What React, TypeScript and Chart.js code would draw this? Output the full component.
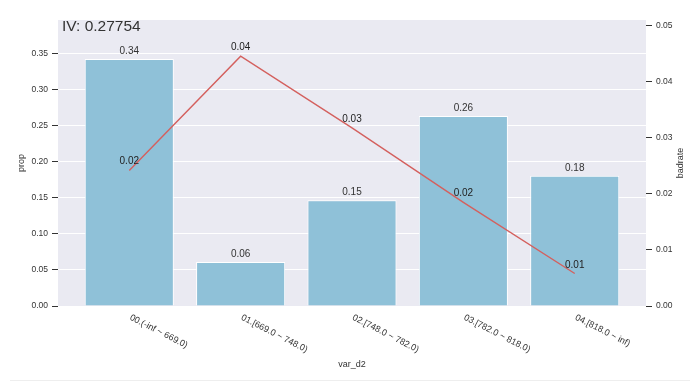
import React, { useEffect, useRef } from "react";
import { Chart, registerables } from "chart.js";

Chart.register(...registerables);

const categories = [
  "00.(-inf ~ 669.0)",
  "01.[669.0 ~ 748.0)",
  "02.[748.0 ~ 782.0)",
  "03.[782.0 ~ 818.0)",
  "04.[818.0 ~ inf)",
];
const propValues = [0.343, 0.061, 0.147, 0.264, 0.181];
const badrateValues = [0.0242, 0.0446, 0.0318, 0.0185, 0.0058];
const propTicks = [0, 0.05, 0.1, 0.15, 0.2, 0.25, 0.3, 0.35];
const badrateTicks = [0, 0.01, 0.02, 0.03, 0.04, 0.05];
const titleText = "IV: 0.27754";
const xTitle = "var_d2";
const yTitle = "prop";
const y2Title = "badrate";

const FONT = "'Liberation Sans', Arial, sans-serif";
const TEXT = "#333333";

export default function App() {
  const ref = useRef<HTMLCanvasElement | null>(null);

  useEffect(() => {
    if (!ref.current) return;
    const decor = {
      id: "decor",
      beforeDraw(chart: any) {
        const { ctx, chartArea } = chart;
        ctx.save();
        ctx.fillStyle = "#EAEAF2";
        ctx.fillRect(chartArea.left, chartArea.top, chartArea.right - chartArea.left, chartArea.bottom - chartArea.top);
        ctx.restore();
      },
      afterDraw(chart: any) {
        const { ctx, chartArea, scales } = chart;
        ctx.save();
        ctx.fillStyle = TEXT;
        ctx.font = `10px ${FONT}`;
        ctx.textAlign = "center";
        ctx.textBaseline = "alphabetic";
        propValues.forEach((v, i) => {
          const x = scales.x.getPixelForValue(i);
          const y = scales.y.getPixelForValue(v);
          ctx.fillText(v.toFixed(2), x, y - 5);
        });
        ctx.fillStyle = "#222222";
        badrateValues.forEach((v, i) => {
          const x = scales.x.getPixelForValue(i);
          const y = scales.y2.getPixelForValue(v);
          ctx.fillText(v.toFixed(2), x, y - 6);
        });
        ctx.fillStyle = TEXT;
        ctx.font = `9px ${FONT}`;
        categories.forEach((c, i) => {
          const x = scales.x.getPixelForValue(i);
          ctx.save();
          ctx.translate(x + 1, chartArea.bottom + 11);
          ctx.rotate((27 * Math.PI) / 180);
          ctx.textAlign = "left";
          ctx.textBaseline = "middle";
          ctx.fillText(c, 0, 0);
          ctx.restore();
        });
        ctx.font = `9px ${FONT}`;
        ctx.textAlign = "center";
        ctx.textBaseline = "middle";
        ctx.fillText(xTitle, (chartArea.left + chartArea.right) / 2, 365);
        const midY = (chartArea.top + chartArea.bottom) / 2;
        ctx.save();
        ctx.translate(22, midY);
        ctx.rotate(-Math.PI / 2);
        ctx.fillText(yTitle, 0, 0);
        ctx.restore();
        ctx.save();
        ctx.translate(681, midY);
        ctx.rotate(-Math.PI / 2);
        ctx.fillText(y2Title, 0, 0);
        ctx.restore();
        ctx.font = `15.5px ${FONT}`;
        ctx.textAlign = "left";
        ctx.textBaseline = "alphabetic";
        ctx.fillStyle = "#333333";
        ctx.fillText(titleText, chartArea.left + 4, 31);
        ctx.restore();
      },
    };

    const chart = new Chart(ref.current, {
      type: "bar",
      data: {
        datasets: [
          {
            type: "line",
            label: "badrate",
            data: badrateValues.map((v, i) => ({ x: i, y: v })),
            yAxisID: "y2",
            xAxisID: "x",
            borderColor: "#d4605e",
            borderWidth: 1.4,
            pointRadius: 0,
            fill: false,
            tension: 0,
            order: 0,
          } as any,
          {
            type: "bar",
            label: "prop",
            data: propValues.map((v, i) => ({ x: i, y: v })),
            yAxisID: "y",
            xAxisID: "x",
            backgroundColor: "#8fc1d8",
            borderColor: "#ffffff",
            borderWidth: 1,
            barPercentage: 0.8,
            categoryPercentage: 1,
            order: 1,
          } as any,
        ],
      },
      plugins: [decor],
      options: {
        animation: false,
        responsive: false,
        maintainAspectRatio: false,
        devicePixelRatio: 1,
        layout: { padding: { top: 20, left: 0, right: 0, bottom: 0 } },
        plugins: {
          legend: { display: false },
          tooltip: { enabled: false },
          title: { display: false },
        },
        scales: {
          x: {
            type: "linear",
            min: -0.64,
            max: 4.64,
            offset: false,
            afterBuildTicks: (s: any) => {
              s.ticks = categories.map((_, i) => ({ value: i }));
            },
            grid: { display: false, drawTicks: false },
            border: { display: false },
            ticks: { display: false },
            afterFit: (s: any) => {
              s.height = 76;
            },
          },
          y: {
            type: "linear",
            position: "left",
            min: 0,
            max: 0.3972,
            afterBuildTicks: (s: any) => {
              s.ticks = propTicks.map((v) => ({ value: v }));
            },
            afterFit: (s: any) => {
              s.width = 58;
            },
            grid: {
              color: "#ffffff",
              lineWidth: 1,
              tickColor: "#333333",
              tickLength: 6,
              drawTicks: true,
            },
            border: { display: false },
            ticks: {
              color: TEXT,
              font: { family: FONT, size: 8.5 },
              padding: 4,
              callback: (v: any) => Number(v).toFixed(2),
            },
          },
          y2: {
            type: "linear",
            position: "right",
            min: 0,
            max: 0.05107,
            afterBuildTicks: (s: any) => {
              s.ticks = badrateTicks.map((v) => ({ value: v }));
            },
            afterFit: (s: any) => {
              s.width = 52;
            },
            grid: {
              drawOnChartArea: false,
              tickColor: "#333333",
              tickLength: 6,
            },
            border: { display: false },
            ticks: {
              color: TEXT,
              font: { family: FONT, size: 8.5 },
              padding: 4,
              callback: (v: any) => Number(v).toFixed(2),
            },
          },
        },
      } as any,
    });
    return () => chart.destroy();
  }, []);

  return (
    <div style={{ position: "fixed", left: 0, top: 0, width: 698, height: 382, background: "#fff" }}>
      <canvas ref={ref} width={698} height={382} style={{ display: "block" }} />
      <div style={{ position: "absolute", left: 10, top: 380, width: 680, height: 1, background: "#eeeeee" }} />
    </div>
  );
}
